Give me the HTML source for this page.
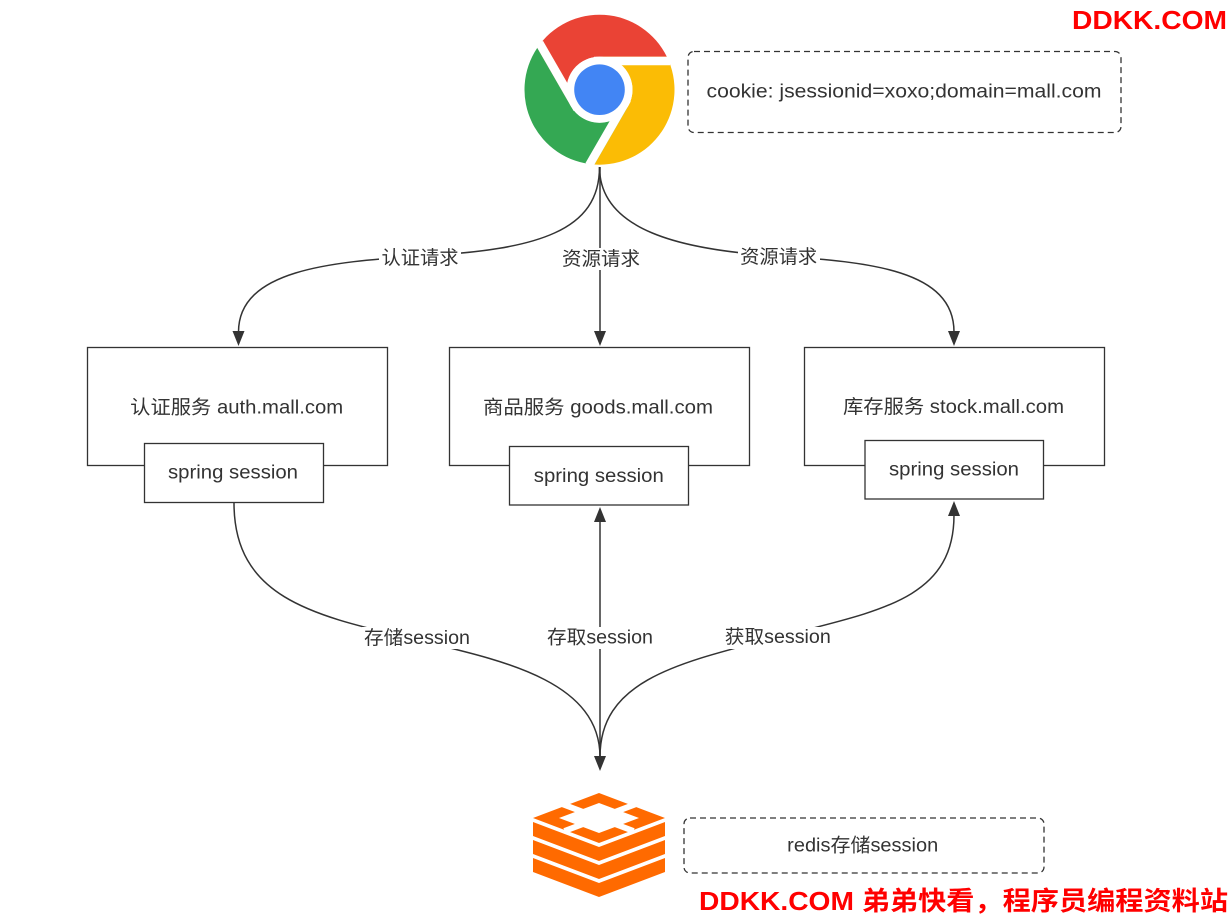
<!DOCTYPE html>
<html><head><meta charset="utf-8">
<style>
html,body{margin:0;padding:0;background:#fff;}
svg{display:block;}
text{font-family:"Liberation Sans","Noto Sans CJK SC",sans-serif;fill:#333;}
.wm{fill:#ff0000;font-weight:bold;}
</style></head><body>
<svg width="1232" height="915" viewBox="0 0 1232 915" xmlns="http://www.w3.org/2000/svg">
<rect x="0" y="0" width="1232" height="915" fill="#fff"/>

<!-- Chrome logo -->
<path fill="#EA4335" d="M666.85,56.7 A75,75 0 0 0 537.25,47.87 L570.92,106.2 A33,33 0 0 1 599.5,56.7 Z"/>
<path fill="#FBBC05" d="M594.41,164.53 A75,75 0 0 0 666.85,56.7 L599.5,56.7 A33,33 0 0 1 628.08,106.2 Z"/>
<path fill="#34A853" d="M537.25,47.87 A75,75 0 0 0 594.41,164.53 L628.08,106.2 A33,33 0 0 1 570.92,106.2 Z"/>
<g stroke="#fff" stroke-width="8.5">
  <line x1="594" y1="60.95" x2="670" y2="60.95"/>
  <line x1="594" y1="60.95" x2="670" y2="60.95" transform="rotate(120 599.5 89.7)"/>
  <line x1="594" y1="60.95" x2="670" y2="60.95" transform="rotate(240 599.5 89.7)"/>
</g>
<circle cx="599.5" cy="89.7" r="33" fill="#fff"/>
<circle cx="599.5" cy="89.7" r="25.3" fill="#4285F4"/>

<!-- cookie box -->
<rect x="688" y="51.5" width="433" height="81" rx="6" ry="6" fill="none" stroke="#333" stroke-width="1.3" stroke-dasharray="6 4"/>
<text x="904" y="92" font-size="19" text-anchor="middle" dominant-baseline="central" textLength="395" lengthAdjust="spacingAndGlyphs">cookie: jsessionid=xoxo;domain=mall.com</text>

<!-- connectors -->
<g fill="none" stroke="#333" stroke-width="1.5">
  <path d="M599.5,167 C599.5,230 540,250 420,256 C330,262 238.5,270 238.5,332"/>
  <path d="M600,167 L600,332"/>
  <path d="M599.5,167 C599.5,230 680,250 778,256 C870,262 954,270 954,332"/>
  <path d="M234,503 C234,600 317,616 417,640 C500,660 600,680 600,757"/>
  <path d="M600,521 L600,757"/>
  <path d="M600,757 C600,680 678,663 778,637 C878,611 954,600 954,515"/>
</g>
<g fill="#333">
  <path d="M232.5,331 L244.5,331 L238.5,346 Z"/>
  <path d="M594,331 L606,331 L600,346 Z"/>
  <path d="M948,331 L960,331 L954,346 Z"/>
  <path d="M594,522 L606,522 L600,507 Z"/>
  <path d="M948,516 L960,516 L954,501 Z"/>
  <path d="M594,756 L606,756 L600,771 Z"/>
</g>

<!-- edge labels -->
<g fill="#fff">
  <rect x="379" y="247" width="82" height="22"/>
  <rect x="560" y="248" width="82" height="22"/>
  <rect x="738" y="247" width="82" height="22"/>
  <rect x="362" y="627" width="110" height="22"/>
  <rect x="545" y="627" width="110" height="22"/>
  <rect x="723" y="627" width="110" height="22"/>
</g>
<text x="420" y="258.3" font-size="19" text-anchor="middle" dominant-baseline="central" textLength="77" lengthAdjust="spacingAndGlyphs">认证请求</text>
<text x="601" y="259.3" font-size="19" text-anchor="middle" dominant-baseline="central" textLength="78" lengthAdjust="spacingAndGlyphs">资源请求</text>
<text x="778.7" y="257.7" font-size="19" text-anchor="middle" dominant-baseline="central" textLength="77" lengthAdjust="spacingAndGlyphs">资源请求</text>
<text x="417" y="638.3" font-size="19" text-anchor="middle" dominant-baseline="central" textLength="106" lengthAdjust="spacingAndGlyphs">存储session</text>
<text x="600" y="638" font-size="19" text-anchor="middle" dominant-baseline="central" textLength="106" lengthAdjust="spacingAndGlyphs">存取session</text>
<text x="777.8" y="637.7" font-size="19" text-anchor="middle" dominant-baseline="central" textLength="106" lengthAdjust="spacingAndGlyphs">获取session</text>

<!-- service boxes -->
<g fill="#fff" stroke="#333" stroke-width="1.3">
  <rect x="87.5" y="347.5" width="300" height="118"/>
  <rect x="449.5" y="347.5" width="300" height="118"/>
  <rect x="804.5" y="347.5" width="300" height="118"/>
  <rect x="144.5" y="443.5" width="179" height="59"/>
  <rect x="509.5" y="446.5" width="179" height="58.5"/>
  <rect x="865" y="440.5" width="178.5" height="58.5"/>
</g>
<text x="236.7" y="408" font-size="19" text-anchor="middle" dominant-baseline="central" textLength="213" lengthAdjust="spacingAndGlyphs">认证服务 auth.mall.com</text>
<text x="598" y="408" font-size="19" text-anchor="middle" dominant-baseline="central" textLength="230" lengthAdjust="spacingAndGlyphs">商品服务 goods.mall.com</text>
<text x="953.5" y="407.5" font-size="19" text-anchor="middle" dominant-baseline="central" textLength="221" lengthAdjust="spacingAndGlyphs">库存服务 stock.mall.com</text>
<text x="233" y="473" font-size="19" text-anchor="middle" dominant-baseline="central" textLength="130" lengthAdjust="spacingAndGlyphs">spring session</text>
<text x="598.8" y="476.5" font-size="19" text-anchor="middle" dominant-baseline="central" textLength="130" lengthAdjust="spacingAndGlyphs">spring session</text>
<text x="954" y="470" font-size="19" text-anchor="middle" dominant-baseline="central" textLength="130" lengthAdjust="spacingAndGlyphs">spring session</text>

<!-- Redis icon -->
<g fill="#FF6A00">
  <path fill-rule="evenodd" d="M533,818 L599,793 L665,818 L599,843 Z M559,818 L599,803 L639,818 L599,833 Z"/>
  <path d="M533,822 L599,847 L665,822 L665,836 L599,861 L533,836 Z"/>
  <path d="M533,840 L599,865 L665,840 L665,854 L599,879 L533,854 Z"/>
  <path d="M533,858 L599,883 L665,858 L665,872 L599,897 L533,872 Z"/>
</g>
<g stroke="#fff" stroke-width="6">
  <line x1="599" y1="818" x2="562" y2="804"/>
  <line x1="599" y1="818" x2="636" y2="804"/>
  <line x1="599" y1="818" x2="564.5" y2="831"/>
  <line x1="599" y1="818" x2="633.5" y2="831"/>
</g>

<!-- redis label box -->
<rect x="684" y="818" width="360" height="55" rx="6" ry="6" fill="none" stroke="#333" stroke-width="1.3" stroke-dasharray="6 4"/>
<text x="862.7" y="846" font-size="19" text-anchor="middle" dominant-baseline="central" textLength="151" lengthAdjust="spacingAndGlyphs">redis存储session</text>

<!-- watermarks -->
<text class="wm" x="1072" y="29" font-size="26" textLength="155" lengthAdjust="spacingAndGlyphs">DDKK.COM</text>
<text class="wm" x="699" y="910" font-size="26" textLength="529" lengthAdjust="spacingAndGlyphs">DDKK.COM 弟弟快看，程序员编程资料站</text>
</svg>
</body></html>
